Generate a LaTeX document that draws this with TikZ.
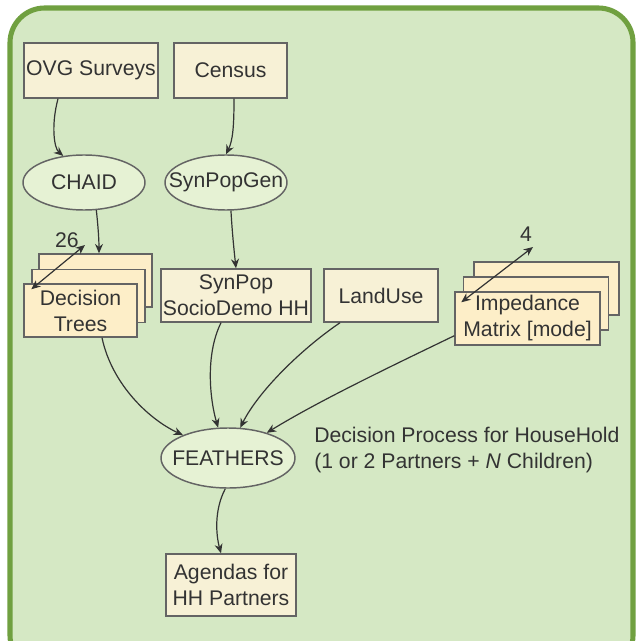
\documentclass[tikz,border=0pt]{standalone}
\usepackage{fontspec}
\setmainfont{Liberation Sans}
\usetikzlibrary{arrows.meta,calc,shapes.geometric}
\definecolor{frameg}{RGB}{112,160,64}
\definecolor{bgg}{RGB}{213,232,196}
\definecolor{boxy}{RGB}{247,241,214}
\definecolor{stacky}{RGB}{253,238,200}
\definecolor{ellg}{RGB}{230,242,212}
\definecolor{edgeg}{RGB}{100,100,100}
\definecolor{txt}{RGB}{51,51,51}
\tikzset{
  base/.style={draw=edgeg,line width=1.1pt,text=txt,font=\fontsize{15.9}{19.5}\selectfont,align=center,inner sep=1pt},
  databox/.style={base,rectangle,fill=boxy},
  stackbox/.style={base,rectangle,fill=stacky},
  proc/.style={base,ellipse,fill=ellg,inner sep=0pt},
  arr/.style={draw=txt,line width=0.9pt,-{Stealth[length=7pt,width=6pt]}},
  darr/.style={draw=txt,line width=0.9pt,{Stealth[length=7pt,width=6pt]}-{Stealth[length=7pt,width=6pt]}},
  lbl/.style={text=txt,font=\fontsize{15.9}{19.5}\selectfont,inner sep=0pt}
}
\begin{document}
\begin{tikzpicture}[x=0.75pt,y=-0.75pt]
\useasboundingbox (0,0) rectangle (638,641);
\fill[white] (0,0) rectangle (638,641);
\draw[frameg,fill=bgg,line width=3.8pt,rounded corners=26pt] (10,8) rectangle (633,670);

\node[databox,minimum width=100.5pt,minimum height=41.25pt] (ovg) at (91,70.5) {OVG Surveys};
\node[databox,minimum width=84.75pt,minimum height=41.25pt] (census) at (230.5,70.5) {Census};
\node[proc,minimum width=91.5pt,minimum height=41.25pt] (chaid) at (84,182.5) {\makebox[0pt]{CHAID}};
\node[proc,minimum width=91.5pt,minimum height=41.25pt] (spg) at (226,182.5) {\makebox[0pt]{SynPopGen}};

\node[stackbox,minimum width=84.75pt,minimum height=39.75pt] (dtback) at (95.5,280.5) {};
\node[stackbox,minimum width=84.75pt,minimum height=39.75pt] (dtmid) at (88.5,296) {};
\node[stackbox,minimum width=84.75pt,minimum height=39.75pt] (dt) at (80.5,310.5) {Decision\\Trees};

\node[databox,minimum width=112.5pt,minimum height=39.75pt] (synpop) at (236,295.5) {SynPop\\SocioDemo HH};
\node[databox,minimum width=85.5pt,minimum height=39.75pt] (landuse) at (381,295.5) {LandUse};

\node[stackbox,minimum width=108.75pt,minimum height=39.75pt] (impback) at (546.5,288.5) {};
\node[stackbox,minimum width=108.75pt,minimum height=39.75pt] (impmid) at (536,303.5) {};
\node[stackbox,minimum width=108.75pt,minimum height=39.75pt] (imp) at (527.5,318.5) {Impedance\\Matrix [mode]};

\node[proc,minimum width=100.5pt,minimum height=45pt] (feathers) at (228,458) {\makebox[0pt]{FEATHERS}};
\node[lbl,anchor=west,align=left] (note) at (314,450) {Decision Process for HouseHold\\(1 or 2 Partners + \textit{N} Children)};
\node[databox,minimum width=97.5pt,minimum height=46.5pt] (agendas) at (231,585) {Agendas for\\HH Partners};

% counters
\coordinate (dtA) at ($(dt.north west)+(8,6)$);
\coordinate (dtB) at (85,245);
\node[lbl] (n26) at (67,240) {26};
\draw[darr] (dtA) -- (dtB);
\coordinate (impA) at ($(imp.north west)+(7,11)$);
\coordinate (impB) at (533,247);
\node[lbl] (n4) at (526,234) {4};
\draw[darr] (impA) -- (impB);

% connectors
\draw[arr] ($(ovg.south)+(-33,0)$) .. controls (51,125) and (54,148) .. (chaid.128);
\draw[arr] ($(census.south)+(3.5,0)$) .. controls (234,125) and (233,140) .. (spg.north);
\draw[arr] (chaid.-66) .. controls (98,225) and (99,240) .. ($(dtback.north)+(3.5,0)$);
\draw[arr] (spg.-80) .. controls (232,230) and (234,250) .. (synpop.north);
\draw[arr] ($(dt.south)+(21.5,0)$) .. controls (112,385) and (150,420) .. (feathers.153);
\draw[arr] ($(synpop.south)+(-15,0)$) .. controls (205,355) and (210,400) .. (feathers.108);
\draw[arr] ($(landuse.south)+(-41,0)$) .. controls (300,350) and (258,392) .. (feathers.68);
\draw[arr] ($(imp.south west)+(0,-10)$) .. controls (400,362) and (320,400) .. (feathers.33);
\draw[arr] (feathers.-95) .. controls (214,510) and (216,535) .. ($(agendas.north)+(-10,0)$);
\end{tikzpicture}
\end{document}
